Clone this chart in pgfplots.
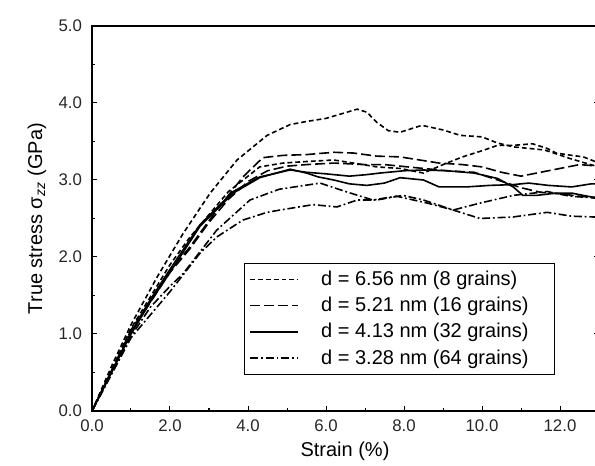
\documentclass[border=0pt]{standalone}
\usepackage{fontspec}
\setmainfont{Liberation Sans}
\usepackage{pgfplots}
\pgfplotsset{compat=1.18}

\tikzset{
  sdash/.style={line width=0.8pt, dash pattern=on 2.4pt off 1.5pt},
  ldash/.style={line width=0.8pt, dash pattern=on 5pt off 2pt},
  solidl/.style={line width=0.8pt, solid},
  ddot/.style={line width=0.8pt, dash pattern=on 4pt off 1.4pt on 0.9pt off 1.4pt},
}
\newcommand{\lent}[1]{\makebox[112pt][l]{#1}}

\begin{document}
\begin{tikzpicture}
\begin{axis}[
    name=ax,
    scale only axis,
    width=253.5pt, height=192.5pt,
    xmin=0, xmax=13, ymin=0, ymax=5,
    xtick={0,2,...,12}, ytick={0,1,...,5},
    minor x tick num=1, minor y tick num=1,
    xtick pos=bottom, ytick pos=both,
    tick align=inside,
    major tick length=2.5pt, minor tick length=1.4pt,
    every tick/.style={black, line width=0.5pt},
    axis line style={black, line width=0.7pt},
    /pgf/number format/assume math mode=true,
    /pgf/number format/.cd, fixed, fixed zerofill, precision=1, /pgfplots/.cd,
    ticklabel style={font=\fontsize{8.4}{10}\selectfont, text=black!85},
    yticklabel style={xshift=-1.5pt},
    xticklabel style={yshift=-1pt},
    xlabel={Strain (\%)},
    ylabel={True stress σ\textsubscript{\textit{zz}} (GPa)},
    label style={font=\fontsize{10.2}{12}\selectfont, text=black!85},
    every axis x label/.style={at={(axis description cs:0.499,-0.104)}, anchor=center},
    every axis y label/.style={at={(axis description cs:-0.1085,0.5)}, rotate=90, anchor=center},
    legend style={at={(0.30,0.384)}, anchor=north west, draw=black, line width=0.5pt,
      font=\fontsize{10}{12.4}\selectfont, inner xsep=2.5pt, inner ysep=1.5pt, row sep=0.4pt,
      /tikz/every odd column/.append style={column sep=9pt}},
    legend cell align=left,
    legend image code/.code={\draw[#1] (0pt,0pt) -- (24pt,0pt);},
    clip=true,
]
% d = 6.56 nm (8 grains)
\addplot[sdash] coordinates {
 (0,0) (0.5,0.58) (1,1.12) (1.67,1.74) (2,2.02) (2.33,2.3) (3.03,2.83) (3.72,3.26)
 (4.49,3.58) (5.08,3.72) (5.5,3.76) (6,3.8) (6.4,3.86) (6.8,3.92) (7.05,3.88)
 (7.3,3.75) (7.6,3.64) (7.9,3.62) (8.46,3.71) (9.0,3.65) (9.44,3.58) (10.0,3.56)
 (10.4,3.48) (10.8,3.43) (11.6,3.39) (11.9,3.34) (12.25,3.28) (12.85,3.19) (13,3.17)};
\addlegendentry{\lent{d = 6.56 nm (8 grains)}}
% d = 5.21 nm (16 grains)
\addplot[ldash] coordinates {
 (0,0) (1,1.05) (2,1.82) (2.51,2.13) (3.2,2.61) (3.87,3.04) (4.38,3.29) (4.9,3.32)
 (5.5,3.33) (6.2,3.36) (6.7,3.35) (7.3,3.31) (7.9,3.3) (8.4,3.26) (8.9,3.22)
 (9.5,3.2) (10,3.17) (10.5,3.1) (11,3.05) (11.5,3.1) (12,3.15) (12.5,3.2) (13,3.18)};
\addlegendentry{\lent{d = 5.21 nm (16 grains)}}
% d = 4.13 nm (32 grains)
\addplot[solidl] coordinates {
 (0,0) (1,1.0) (1.5,1.42) (2,1.8) (2.77,2.4) (3.62,2.83) (4.3,3.03) (5.08,3.14)
 (5.5,3.09) (5.8,3.04) (6.2,3.0) (6.6,2.95) (7.05,2.93) (7.5,2.96) (7.9,3.03)
 (8.5,3.0) (8.9,2.91) (9.6,2.91) (10.2,2.93) (10.8,2.94) (11.2,2.96) (11.7,2.93)
 (12.3,2.91) (12.8,2.95) (13,2.95)};
\addlegendentry{\lent{d = 4.13 nm (32 grains)}}
% d = 3.28 nm (64 grains)
\addplot[ddot] coordinates {
 (0,0) (1,0.97) (1.5,1.35) (2,1.62) (2.33,1.78) (3.2,2.35) (4.05,2.74) (4.8,2.88)
 (5.85,2.96) (6.5,2.85) (7.2,2.74) (7.8,2.79) (8.6,2.7) (9.26,2.61) (9.95,2.7)
 (10.8,2.8) (11.67,2.85) (12.25,2.79) (12.8,2.77) (13,2.76)};
\addlegendentry{\lent{d = 3.28 nm (64 grains)}}
% second sample of each grain size
\addplot[sdash, forget plot] coordinates {
 (0,0) (1,1.07) (2,1.9) (2.5,2.25) (3,2.55) (3.5,2.85) (4,3.05) (4.3,3.17) (4.9,3.22)
 (5.5,3.24) (6.2,3.26) (6.7,3.22) (7.3,3.17) (7.9,3.15) (8.5,3.09) (9,3.2)
 (9.5,3.3) (10,3.38) (10.4,3.45) (10.8,3.45) (11.3,3.47) (11.67,3.41) (11.9,3.35)
 (12.3,3.32) (12.6,3.3) (12.9,3.24) (13,3.22)};
\addplot[ldash, forget plot] coordinates {
 (0,0) (1,1.03) (2,1.8) (2.5,2.1) (3,2.45) (3.5,2.75) (4,2.98) (4.5,3.12) (5,3.18)
 (5.5,3.2) (6.2,3.22) (7,3.2) (7.5,3.2) (8.5,3.15) (9.1,3.12) (9.8,3.1)
 (10.4,3.0) (11,2.9) (11.5,2.84) (12,2.82) (12.5,2.79) (12.9,2.77) (13,2.77)};
\addplot[solidl, forget plot] coordinates {
 (0,0) (1,1.02) (1.5,1.45) (2,1.84) (2.77,2.42) (3.62,2.85) (4.3,3.04) (5.08,3.13)
 (5.5,3.1) (6,3.08) (6.6,3.05) (7.05,3.07) (7.38,3.09) (8.0,3.12) (8.5,3.13)
 (9.1,3.12) (9.8,3.09) (10.4,3.02) (10.8,2.91) (11.05,2.8) (11.4,2.8) (11.9,2.83)
 (12.3,2.83) (12.8,2.78) (13,2.77)};
\addplot[ddot, forget plot] coordinates {
 (0,0) (1,0.95) (2,1.55) (2.77,2.05) (3.2,2.26) (3.87,2.48) (4.49,2.58) (4.82,2.61)
 (5.67,2.68) (6.28,2.65) (6.8,2.74) (7.3,2.74) (7.97,2.8) (8.5,2.74) (9.26,2.61)
 (9.95,2.5) (10.8,2.52) (11.67,2.58) (12.3,2.53) (12.85,2.52) (13,2.52)};
\end{axis}
\pgfresetboundingbox
\path[use as bounding box] ([xshift=-46pt,yshift=-27.5pt]ax.south west) rectangle ++(297.5pt,233pt);
\end{tikzpicture}
\end{document}
